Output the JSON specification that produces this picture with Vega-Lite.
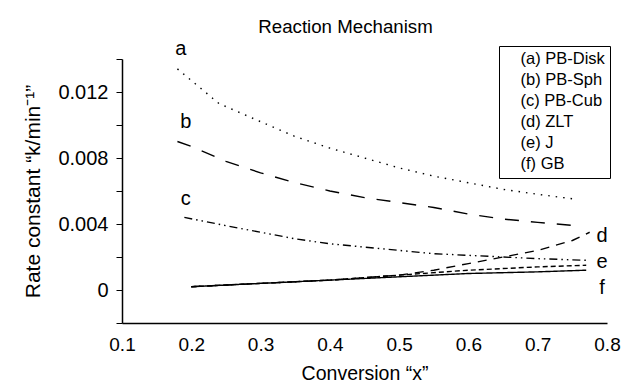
{
  "$schema": "https://vega.github.io/schema/vega-lite/v6.json",
  "width": 485,
  "height": 264,
  "autosize": {"type": "none"},
  "padding": {"left": 122, "top": 59, "right": 28, "bottom": 67},
  "background": "white",
  "config": {
    "view": {"stroke": null},
    "font": "Liberation Sans",
    "axis": {"domainColor": "black", "tickColor": "black", "labelColor": "black", "titleColor": "black", "grid": false, "labelFont": "Liberation Sans", "titleFont": "Liberation Sans", "titleFontWeight": "normal"},
    "legend": {"labelFontSize": 16.5, "labelFont": "Liberation Sans", "labelColor": "black"}
  },
  "title": {"text": "Reaction Mechanism", "fontSize": 18.7, "fontWeight": "normal", "font": "Liberation Sans", "color": "black", "offset": 2, "dx": -19},
  "resolve": {"scale": {"y": "shared", "x": "shared"}, "axis": {"y": "independent"}},
  "datasets": {
    "curves": [
      {"s": "(a) PB-Disk", "x": 0.18, "k": 0.0134},
      {"s": "(a) PB-Disk", "x": 0.24, "k": 0.0113},
      {"s": "(a) PB-Disk", "x": 0.3, "k": 0.0102},
      {"s": "(a) PB-Disk", "x": 0.35, "k": 0.0093},
      {"s": "(a) PB-Disk", "x": 0.4, "k": 0.0086},
      {"s": "(a) PB-Disk", "x": 0.45, "k": 0.0080},
      {"s": "(a) PB-Disk", "x": 0.5, "k": 0.0074},
      {"s": "(a) PB-Disk", "x": 0.55, "k": 0.0069},
      {"s": "(a) PB-Disk", "x": 0.6, "k": 0.0065},
      {"s": "(a) PB-Disk", "x": 0.65, "k": 0.0061},
      {"s": "(a) PB-Disk", "x": 0.7, "k": 0.0058},
      {"s": "(a) PB-Disk", "x": 0.755, "k": 0.0055},
      {"s": "(b) PB-Sph", "x": 0.18, "k": 0.0090},
      {"s": "(b) PB-Sph", "x": 0.2, "k": 0.0087},
      {"s": "(b) PB-Sph", "x": 0.25, "k": 0.0078},
      {"s": "(b) PB-Sph", "x": 0.3, "k": 0.0071},
      {"s": "(b) PB-Sph", "x": 0.35, "k": 0.0065},
      {"s": "(b) PB-Sph", "x": 0.4, "k": 0.0060},
      {"s": "(b) PB-Sph", "x": 0.45, "k": 0.0056},
      {"s": "(b) PB-Sph", "x": 0.5, "k": 0.0053},
      {"s": "(b) PB-Sph", "x": 0.55, "k": 0.0050},
      {"s": "(b) PB-Sph", "x": 0.6, "k": 0.0046},
      {"s": "(b) PB-Sph", "x": 0.65, "k": 0.0043},
      {"s": "(b) PB-Sph", "x": 0.7, "k": 0.0041},
      {"s": "(b) PB-Sph", "x": 0.755, "k": 0.0039},
      {"s": "(c) PB-Cub", "x": 0.19, "k": 0.0044},
      {"s": "(c) PB-Cub", "x": 0.25, "k": 0.0039},
      {"s": "(c) PB-Cub", "x": 0.3, "k": 0.0035},
      {"s": "(c) PB-Cub", "x": 0.35, "k": 0.0031},
      {"s": "(c) PB-Cub", "x": 0.4, "k": 0.0028},
      {"s": "(c) PB-Cub", "x": 0.45, "k": 0.0026},
      {"s": "(c) PB-Cub", "x": 0.5, "k": 0.0024},
      {"s": "(c) PB-Cub", "x": 0.55, "k": 0.0022},
      {"s": "(c) PB-Cub", "x": 0.6, "k": 0.0021},
      {"s": "(c) PB-Cub", "x": 0.65, "k": 0.0020},
      {"s": "(c) PB-Cub", "x": 0.7, "k": 0.0019},
      {"s": "(c) PB-Cub", "x": 0.77, "k": 0.0018},
      {"s": "(d) ZLT", "x": 0.2, "k": 0.0002},
      {"s": "(d) ZLT", "x": 0.3, "k": 0.0004},
      {"s": "(d) ZLT", "x": 0.4, "k": 0.0006},
      {"s": "(d) ZLT", "x": 0.5, "k": 0.0009},
      {"s": "(d) ZLT", "x": 0.55, "k": 0.0012},
      {"s": "(d) ZLT", "x": 0.6, "k": 0.0016},
      {"s": "(d) ZLT", "x": 0.65, "k": 0.0020},
      {"s": "(d) ZLT", "x": 0.7, "k": 0.0024},
      {"s": "(d) ZLT", "x": 0.75, "k": 0.0030},
      {"s": "(d) ZLT", "x": 0.775, "k": 0.0035},
      {"s": "(e) J", "x": 0.2, "k": 0.0002},
      {"s": "(e) J", "x": 0.3, "k": 0.0004},
      {"s": "(e) J", "x": 0.4, "k": 0.0006},
      {"s": "(e) J", "x": 0.5, "k": 0.0009},
      {"s": "(e) J", "x": 0.6, "k": 0.0012},
      {"s": "(e) J", "x": 0.7, "k": 0.0014},
      {"s": "(e) J", "x": 0.77, "k": 0.0015},
      {"s": "(f) GB", "x": 0.2, "k": 0.0002},
      {"s": "(f) GB", "x": 0.3, "k": 0.0004},
      {"s": "(f) GB", "x": 0.4, "k": 0.0006},
      {"s": "(f) GB", "x": 0.5, "k": 0.0008},
      {"s": "(f) GB", "x": 0.6, "k": 0.0010},
      {"s": "(f) GB", "x": 0.7, "k": 0.0011},
      {"s": "(f) GB", "x": 0.77, "k": 0.0012}
    ],
    "labels": [
      {"t": "a", "x": 0.185, "k": 0.0146},
      {"t": "b", "x": 0.192, "k": 0.0102},
      {"t": "c", "x": 0.192, "k": 0.0055},
      {"t": "d", "x": 0.793, "k": 0.0033},
      {"t": "e", "x": 0.793, "k": 0.0017},
      {"t": "f", "x": 0.793, "k": 0.0001}
    ]
  },
  "layer": [
    {
      "data": {"name": "curves"},
      "mark": {"type": "line", "color": "black", "strokeWidth": 1.4},
      "encoding": {
        "x": {
          "field": "x", "type": "quantitative",
          "scale": {"domain": [0.1, 0.8], "nice": false, "zero": false},
          "axis": {"values": [0.1, 0.2, 0.3, 0.4, 0.5, 0.6, 0.7, 0.8], "format": ".1f", "tickSize": 0, "labelPadding": 12, "labelFontSize": 19, "title": "Conversion “x”", "titleFontSize": 19.5, "titlePadding": 10, "domainWidth": 1.5, "labelFlush": false}
        },
        "y": {
          "field": "k", "type": "quantitative",
          "scale": {"domain": [-0.002, 0.014], "nice": false, "zero": false},
          "axis": {"orient": "left", "values": [0, 0.004, 0.008, 0.012], "format": ".3f", "labelExpr": "datum.value == 0 ? '0' : datum.label", "tickSize": 6, "labelPadding": 8, "labelFontSize": 20, "title": "Rate constant “k/min⁻¹”", "titleFontSize": 21, "titlePadding": 14, "domainWidth": 1.5, "labelFlush": false}
        },
        "detail": {"field": "s"},
        "strokeDash": {
          "field": "s", "type": "nominal",
          "scale": {
            "domain": ["(a) PB-Disk", "(b) PB-Sph", "(c) PB-Cub", "(d) ZLT", "(e) J", "(f) GB"],
            "range": [[1.5, 6], [14, 12], [8, 4, 1.5, 4, 1.5, 4], [9, 7], [5, 3], [1, 0]]
          },
          "legend": {
            "orient": "none", "legendX": 377, "legendY": -13, "title": null,
            "symbolSize": 0, "symbolStrokeWidth": 0, "symbolOpacity": 0, "labelOffset": 0,
            "labelFontSize": 16.5,
            "strokeColor": "black", "padding": 5, "rowPadding": 4,
            "encode": {"legend": {"update": {"strokeWidth": {"value": 3}, "stroke": {"value": "black"}}}}
          }
        }
      }
    },
    {
      "data": {"name": "labels"},
      "mark": {"type": "text", "fontSize": 20, "font": "Liberation Sans", "color": "black"},
      "encoding": {
        "x": {"field": "x", "type": "quantitative"},
        "y": {
          "field": "k", "type": "quantitative",
          "axis": {"orient": "left", "values": [-0.002, 0.002, 0.006, 0.01, 0.014], "labels": false, "title": null, "tickSize": 6, "domain": false}
        },
        "text": {"field": "t"}
      }
    }
  ]
}
